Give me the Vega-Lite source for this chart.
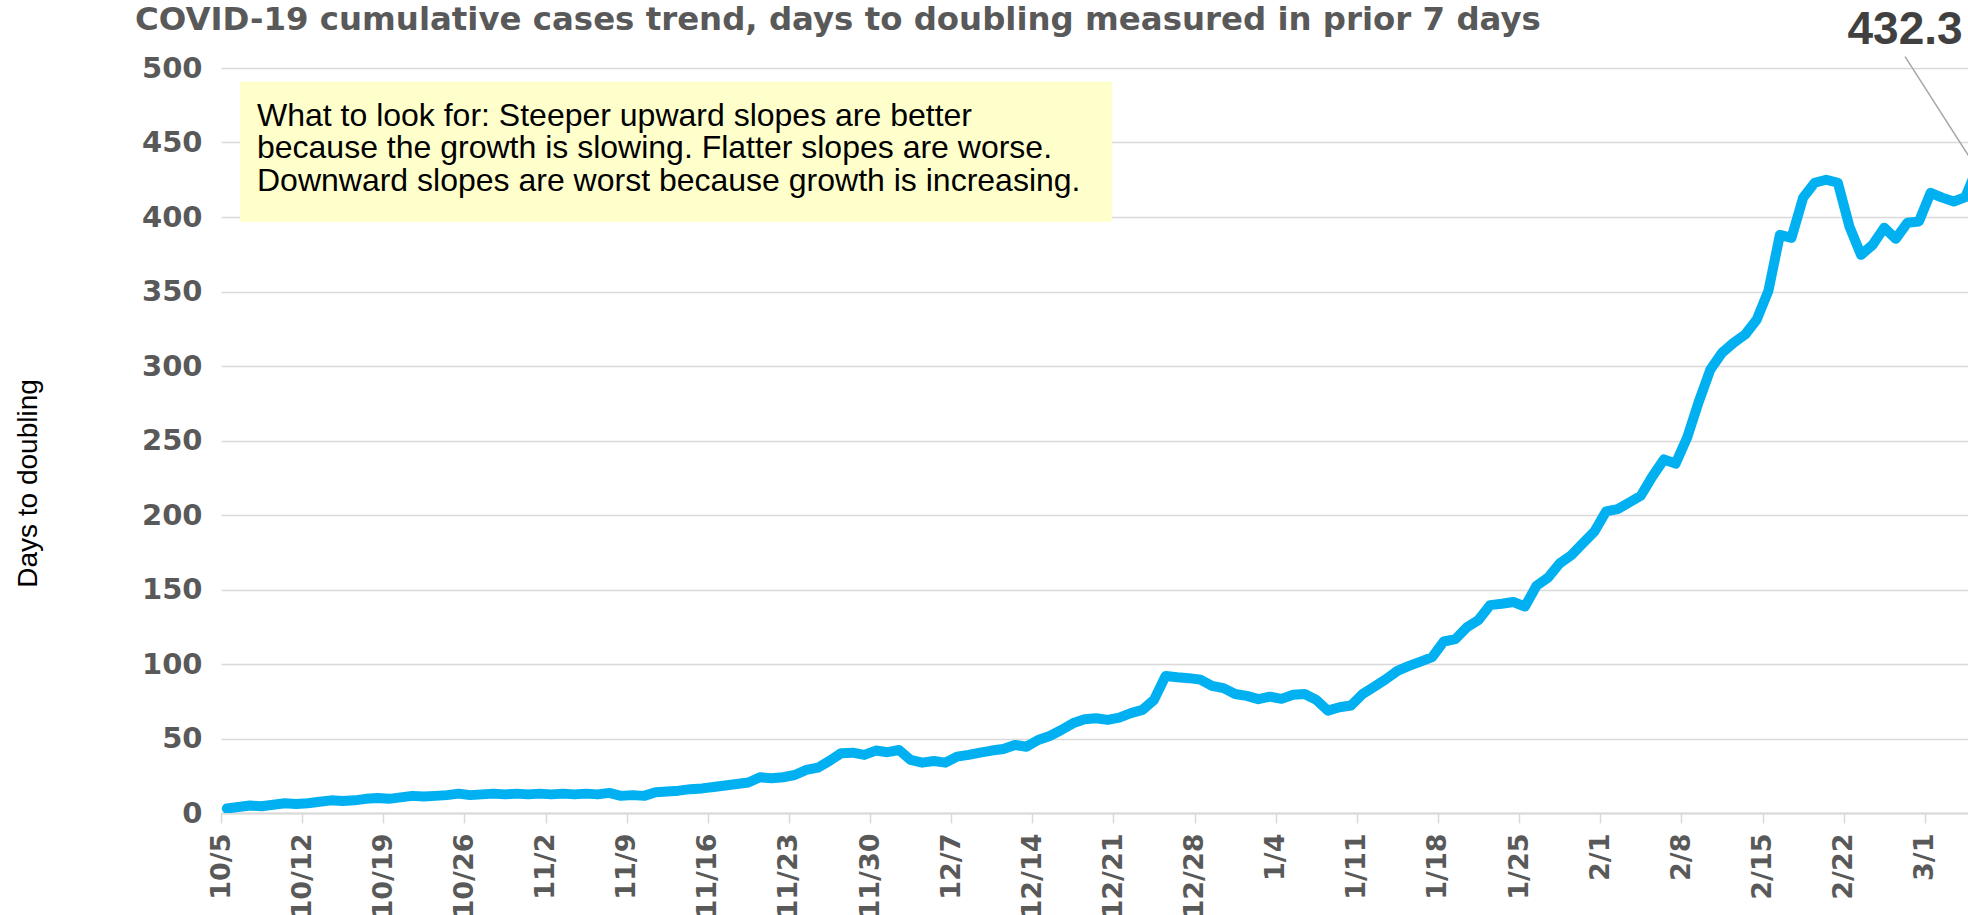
{
  "$schema": "https://vega.github.io/schema/vega-lite/v6.json",
  "width": 1747,
  "height": 745,
  "autosize": {"type": "none"},
  "padding": {"left": 221, "top": 68, "right": 0, "bottom": 102},
  "background": "white",
  "config": {"view": {"stroke": null}},
  "title": {
    "text": "COVID-19 cumulative cases trend, days to doubling measured in prior 7 days",
    "anchor": "start",
    "frame": "group",
    "dx": -86,
    "dy": 99,
    "font": "DejaVu Sans",
    "fontWeight": "bold",
    "fontSize": 32.4,
    "color": "#595959",
    "baseline": "alphabetic",
    "offset": 44
  },
  "datasets": {
    "series": [
      {"date": "2020-10-05T12:00:00", "v": 3.0},
      {"date": "2020-10-06T12:00:00", "v": 4.0},
      {"date": "2020-10-07T12:00:00", "v": 5.0},
      {"date": "2020-10-08T12:00:00", "v": 4.5},
      {"date": "2020-10-09T12:00:00", "v": 5.5},
      {"date": "2020-10-10T12:00:00", "v": 6.5},
      {"date": "2020-10-11T12:00:00", "v": 6.0},
      {"date": "2020-10-12T12:00:00", "v": 6.5},
      {"date": "2020-10-13T12:00:00", "v": 7.5},
      {"date": "2020-10-14T12:00:00", "v": 8.5},
      {"date": "2020-10-15T12:00:00", "v": 8.0},
      {"date": "2020-10-16T12:00:00", "v": 8.5},
      {"date": "2020-10-17T12:00:00", "v": 9.5},
      {"date": "2020-10-18T12:00:00", "v": 10.0},
      {"date": "2020-10-19T12:00:00", "v": 9.5},
      {"date": "2020-10-20T12:00:00", "v": 10.5},
      {"date": "2020-10-21T12:00:00", "v": 11.5},
      {"date": "2020-10-22T12:00:00", "v": 11.0},
      {"date": "2020-10-23T12:00:00", "v": 11.5},
      {"date": "2020-10-24T12:00:00", "v": 12.0},
      {"date": "2020-10-25T12:00:00", "v": 13.0},
      {"date": "2020-10-26T12:00:00", "v": 12.0},
      {"date": "2020-10-27T12:00:00", "v": 12.5},
      {"date": "2020-10-28T12:00:00", "v": 13.0},
      {"date": "2020-10-29T12:00:00", "v": 12.5},
      {"date": "2020-10-30T12:00:00", "v": 13.0},
      {"date": "2020-10-31T12:00:00", "v": 12.5},
      {"date": "2020-11-01T12:00:00", "v": 13.0},
      {"date": "2020-11-02T12:00:00", "v": 12.5},
      {"date": "2020-11-03T12:00:00", "v": 13.0},
      {"date": "2020-11-04T12:00:00", "v": 12.5},
      {"date": "2020-11-05T12:00:00", "v": 13.0},
      {"date": "2020-11-06T12:00:00", "v": 12.5},
      {"date": "2020-11-07T12:00:00", "v": 13.5},
      {"date": "2020-11-08T12:00:00", "v": 11.5},
      {"date": "2020-11-09T12:00:00", "v": 12.0},
      {"date": "2020-11-10T12:00:00", "v": 11.5},
      {"date": "2020-11-11T12:00:00", "v": 14.0},
      {"date": "2020-11-12T12:00:00", "v": 14.5},
      {"date": "2020-11-13T12:00:00", "v": 15.0},
      {"date": "2020-11-14T12:00:00", "v": 16.0},
      {"date": "2020-11-15T12:00:00", "v": 16.5},
      {"date": "2020-11-16T12:00:00", "v": 17.5},
      {"date": "2020-11-17T12:00:00", "v": 18.5},
      {"date": "2020-11-18T12:00:00", "v": 19.5},
      {"date": "2020-11-19T12:00:00", "v": 20.5},
      {"date": "2020-11-20T12:00:00", "v": 24.0},
      {"date": "2020-11-21T12:00:00", "v": 23.3},
      {"date": "2020-11-22T12:00:00", "v": 24.0},
      {"date": "2020-11-23T12:00:00", "v": 25.5},
      {"date": "2020-11-24T12:00:00", "v": 28.9},
      {"date": "2020-11-25T12:00:00", "v": 30.4},
      {"date": "2020-11-26T12:00:00", "v": 35.0},
      {"date": "2020-11-27T12:00:00", "v": 40.1},
      {"date": "2020-11-28T12:00:00", "v": 40.5},
      {"date": "2020-11-29T12:00:00", "v": 39.0},
      {"date": "2020-11-30T12:00:00", "v": 41.9},
      {"date": "2020-12-01T12:00:00", "v": 40.8},
      {"date": "2020-12-02T12:00:00", "v": 42.3},
      {"date": "2020-12-03T12:00:00", "v": 35.6},
      {"date": "2020-12-04T12:00:00", "v": 33.8},
      {"date": "2020-12-05T12:00:00", "v": 34.9},
      {"date": "2020-12-06T12:00:00", "v": 33.8},
      {"date": "2020-12-07T12:00:00", "v": 37.8},
      {"date": "2020-12-08T12:00:00", "v": 39.0},
      {"date": "2020-12-09T12:00:00", "v": 40.5},
      {"date": "2020-12-10T12:00:00", "v": 41.9},
      {"date": "2020-12-11T12:00:00", "v": 43.0},
      {"date": "2020-12-12T12:00:00", "v": 45.7},
      {"date": "2020-12-13T12:00:00", "v": 44.5},
      {"date": "2020-12-14T12:00:00", "v": 49.0},
      {"date": "2020-12-15T12:00:00", "v": 51.7},
      {"date": "2020-12-16T12:00:00", "v": 55.7},
      {"date": "2020-12-17T12:00:00", "v": 60.2},
      {"date": "2020-12-18T12:00:00", "v": 62.9},
      {"date": "2020-12-19T12:00:00", "v": 63.6},
      {"date": "2020-12-20T12:00:00", "v": 62.5},
      {"date": "2020-12-21T12:00:00", "v": 64.0},
      {"date": "2020-12-22T12:00:00", "v": 67.0},
      {"date": "2020-12-23T12:00:00", "v": 69.2},
      {"date": "2020-12-24T12:00:00", "v": 75.9},
      {"date": "2020-12-25T12:00:00", "v": 92.0},
      {"date": "2020-12-26T12:00:00", "v": 91.1},
      {"date": "2020-12-27T12:00:00", "v": 90.5},
      {"date": "2020-12-28T12:00:00", "v": 89.5},
      {"date": "2020-12-29T12:00:00", "v": 85.3},
      {"date": "2020-12-30T12:00:00", "v": 83.8},
      {"date": "2020-12-31T12:00:00", "v": 79.9},
      {"date": "2021-01-01T12:00:00", "v": 78.6},
      {"date": "2021-01-02T12:00:00", "v": 76.4},
      {"date": "2021-01-03T12:00:00", "v": 78.1},
      {"date": "2021-01-04T12:00:00", "v": 76.6},
      {"date": "2021-01-05T12:00:00", "v": 79.3},
      {"date": "2021-01-06T12:00:00", "v": 79.9},
      {"date": "2021-01-07T12:00:00", "v": 75.9},
      {"date": "2021-01-08T12:00:00", "v": 68.7},
      {"date": "2021-01-09T12:00:00", "v": 71.0},
      {"date": "2021-01-10T12:00:00", "v": 72.1},
      {"date": "2021-01-11T12:00:00", "v": 79.9},
      {"date": "2021-01-12T12:00:00", "v": 84.8},
      {"date": "2021-01-13T12:00:00", "v": 89.8},
      {"date": "2021-01-14T12:00:00", "v": 95.4},
      {"date": "2021-01-15T12:00:00", "v": 98.7},
      {"date": "2021-01-16T12:00:00", "v": 101.6},
      {"date": "2021-01-17T12:00:00", "v": 104.6},
      {"date": "2021-01-18T12:00:00", "v": 115.1},
      {"date": "2021-01-19T12:00:00", "v": 116.7},
      {"date": "2021-01-20T12:00:00", "v": 124.7},
      {"date": "2021-01-21T12:00:00", "v": 129.6},
      {"date": "2021-01-22T12:00:00", "v": 139.5},
      {"date": "2021-01-23T12:00:00", "v": 140.4},
      {"date": "2021-01-24T12:00:00", "v": 141.6},
      {"date": "2021-01-25T12:00:00", "v": 138.6},
      {"date": "2021-01-26T12:00:00", "v": 152.5},
      {"date": "2021-01-27T12:00:00", "v": 158.0},
      {"date": "2021-01-28T12:00:00", "v": 167.5},
      {"date": "2021-01-29T12:00:00", "v": 173.0},
      {"date": "2021-01-30T12:00:00", "v": 181.0},
      {"date": "2021-01-31T12:00:00", "v": 188.9},
      {"date": "2021-02-01T12:00:00", "v": 202.4},
      {"date": "2021-02-02T12:00:00", "v": 204.0},
      {"date": "2021-02-03T12:00:00", "v": 208.4},
      {"date": "2021-02-04T12:00:00", "v": 212.9},
      {"date": "2021-02-05T12:00:00", "v": 225.9},
      {"date": "2021-02-06T12:00:00", "v": 237.3},
      {"date": "2021-02-07T12:00:00", "v": 234.5},
      {"date": "2021-02-08T12:00:00", "v": 252.0},
      {"date": "2021-02-09T12:00:00", "v": 276.0},
      {"date": "2021-02-10T12:00:00", "v": 297.6},
      {"date": "2021-02-11T12:00:00", "v": 308.8},
      {"date": "2021-02-12T12:00:00", "v": 315.5},
      {"date": "2021-02-13T12:00:00", "v": 321.1},
      {"date": "2021-02-14T12:00:00", "v": 331.1},
      {"date": "2021-02-15T12:00:00", "v": 350.2},
      {"date": "2021-02-16T12:00:00", "v": 388.0},
      {"date": "2021-02-17T12:00:00", "v": 386.0},
      {"date": "2021-02-18T12:00:00", "v": 412.9},
      {"date": "2021-02-19T12:00:00", "v": 423.0},
      {"date": "2021-02-20T12:00:00", "v": 425.0},
      {"date": "2021-02-21T12:00:00", "v": 423.0},
      {"date": "2021-02-22T12:00:00", "v": 393.6},
      {"date": "2021-02-23T12:00:00", "v": 374.6},
      {"date": "2021-02-24T12:00:00", "v": 381.3},
      {"date": "2021-02-25T12:00:00", "v": 392.8},
      {"date": "2021-02-26T12:00:00", "v": 385.4},
      {"date": "2021-02-27T12:00:00", "v": 396.1},
      {"date": "2021-02-28T12:00:00", "v": 397.0},
      {"date": "2021-03-01T12:00:00", "v": 416.2},
      {"date": "2021-03-02T12:00:00", "v": 413.0},
      {"date": "2021-03-03T12:00:00", "v": 410.4},
      {"date": "2021-03-04T12:00:00", "v": 413.3},
      {"date": "2021-03-05T12:00:00", "v": 432.3}
    ],
    "box": [
      {"x1": "2020-10-06T15:20:00", "x2": "2020-12-20T21:00:00", "y1": 490.8, "y2": 396.8}
    ],
    "note": [
      {"date": "2020-10-08T02:30:00", "v": 468.0, "line": "What to look for: Steeper upward slopes are better"},
      {"date": "2020-10-08T02:30:00", "v": 446.1, "line": "because the growth is slowing. Flatter slopes are worse."},
      {"date": "2020-10-08T02:30:00", "v": 424.2, "line": "Downward slopes are worst because growth is increasing."}
    ],
    "callout": [
      {"date": "2021-03-05T12:00:00", "v": 432.3, "label_date": "2021-02-27T07:12:00", "label_v": 516.1, "leader_v": 507.6, "label": "432.3"}
    ]
  },
  "layer": [
    {
      "data": {"name": "box"},
      "mark": {"type": "rect", "fill": "#FFFFCC"},
      "encoding": {
        "x": {"field": "x1", "type": "temporal"},
        "x2": {"field": "x2"},
        "y": {"field": "y1", "type": "quantitative"},
        "y2": {"field": "y2"}
      }
    },
    {
      "data": {"name": "series"},
      "mark": {"type": "line", "color": "#00B0F0", "strokeWidth": 10, "strokeJoin": "round", "strokeCap": "round", "clip": true},
      "encoding": {
        "x": {
          "field": "date",
          "type": "temporal",
          "scale": {"domain": [{"year": 2020, "month": 10, "date": 5}, {"year": 2021, "month": 3, "date": 4, "hours": 17, "minutes": 30}]},
          "axis": {
            "title": null,
            "values": [
              {"year": 2020, "month": 10, "date": 5}, {"year": 2020, "month": 10, "date": 12}, {"year": 2020, "month": 10, "date": 19}, {"year": 2020, "month": 10, "date": 26},
              {"year": 2020, "month": 11, "date": 2}, {"year": 2020, "month": 11, "date": 9}, {"year": 2020, "month": 11, "date": 16}, {"year": 2020, "month": 11, "date": 23}, {"year": 2020, "month": 11, "date": 30},
              {"year": 2020, "month": 12, "date": 7}, {"year": 2020, "month": 12, "date": 14}, {"year": 2020, "month": 12, "date": 21}, {"year": 2020, "month": 12, "date": 28},
              {"year": 2021, "month": 1, "date": 4}, {"year": 2021, "month": 1, "date": 11}, {"year": 2021, "month": 1, "date": 18}, {"year": 2021, "month": 1, "date": 25},
              {"year": 2021, "month": 2, "date": 1}, {"year": 2021, "month": 2, "date": 8}, {"year": 2021, "month": 2, "date": 15}, {"year": 2021, "month": 2, "date": 22},
              {"year": 2021, "month": 3, "date": 1}
            ],
            "format": "%-m/%-d",
            "labelAngle": -90,
            "labelFont": "DejaVu Sans",
            "labelFontWeight": "bold",
            "labelFontSize": 27,
            "labelColor": "#595959",
            "labelPadding": 10,
            "labelOverlap": false,
            "labelFlush": false,
            "grid": false,
            "domainColor": "#D9D9D9",
            "domainWidth": 2,
            "tickColor": "#D9D9D9",
            "tickWidth": 1.5,
            "tickSize": 10
          }
        },
        "y": {
          "field": "v",
          "type": "quantitative",
          "scale": {"domain": [0, 500], "nice": false, "zero": true},
          "axis": {
            "title": "Days to doubling",
            "titleFont": "Liberation Sans",
            "titleFontWeight": "normal",
            "titleFontSize": 28,
            "titleColor": "#000000",
            "titleX": -193,
            "titleY": 415,
            "titleAlign": "center",
            "titleBaseline": "middle",
            "values": [0, 50, 100, 150, 200, 250, 300, 350, 400, 450, 500],
            "grid": true,
            "gridColor": "#D9D9D9",
            "gridWidth": 1.5,
            "ticks": false,
            "domain": false,
            "labelFont": "DejaVu Sans",
            "labelFontWeight": "bold",
            "labelFontSize": 29,
            "labelColor": "#595959",
            "labelPadding": 19
          }
        }
      }
    },
    {
      "data": {"name": "note"},
      "mark": {"type": "text", "align": "left", "baseline": "middle", "font": "Liberation Sans", "fontSize": 32, "color": "#000000"},
      "encoding": {
        "x": {"field": "date", "type": "temporal"},
        "y": {"field": "v", "type": "quantitative"},
        "text": {"field": "line"}
      }
    },
    {
      "data": {"name": "callout"},
      "mark": {"type": "rule", "color": "#A6A6A6", "strokeWidth": 1.5},
      "encoding": {
        "x": {"field": "label_date", "type": "temporal"},
        "y": {"field": "leader_v", "type": "quantitative"},
        "x2": {"field": "date"},
        "y2": {"field": "v"}
      }
    },
    {
      "data": {"name": "callout"},
      "mark": {"type": "text", "align": "center", "baseline": "alphabetic", "font": "Liberation Sans", "fontWeight": "bold", "fontSize": 46, "color": "#404040"},
      "encoding": {
        "x": {"field": "label_date", "type": "temporal"},
        "y": {"field": "label_v", "type": "quantitative"},
        "text": {"field": "label"}
      }
    }
  ]
}
